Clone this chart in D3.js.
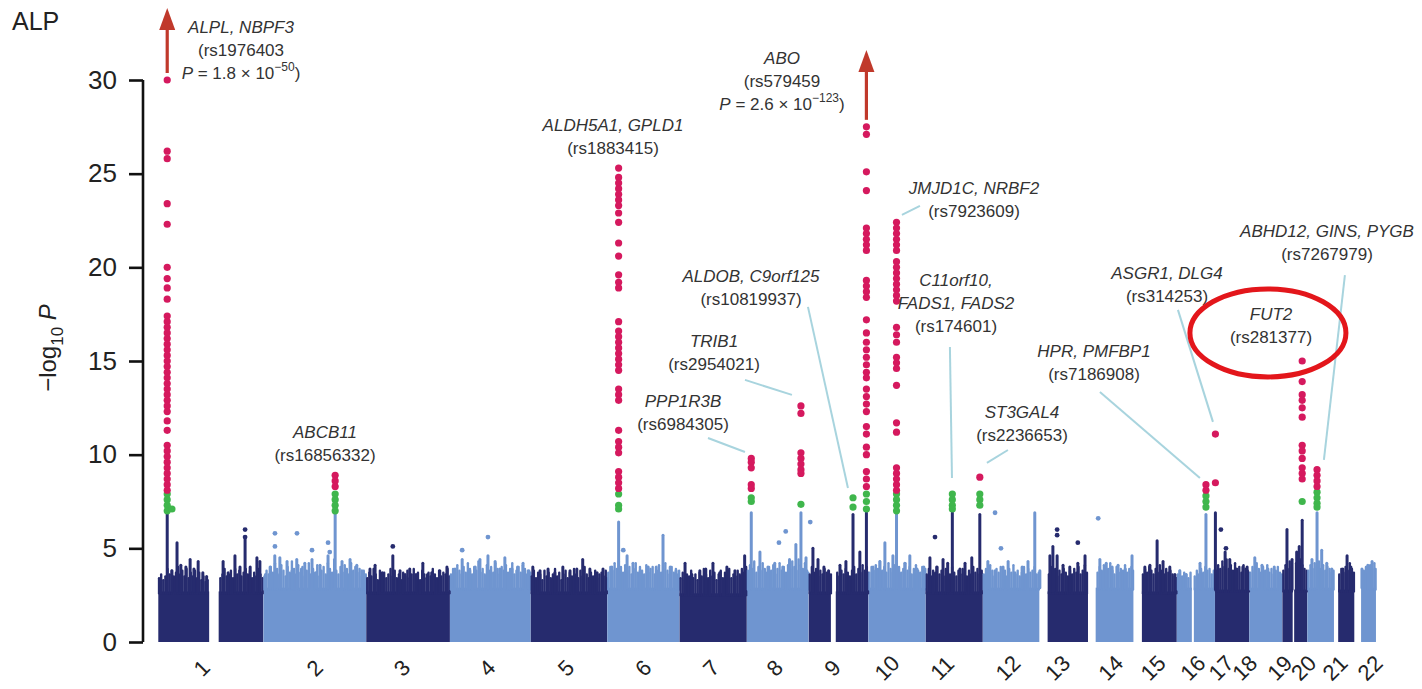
<!DOCTYPE html>
<html><head><meta charset="utf-8">
<script src="https://cdn.jsdelivr.net/npm/d3@7"></script>
<style>
body{margin:0;background:#fff;}
svg{display:block;font-family:"Liberation Sans",Arial,Helvetica,sans-serif;}
</style></head><body>
<svg id="chart" width="1422" height="689"></svg>
<script>
// ---- chromosomes (hg19 lengths, Mb) ----
const chromosomes = ["1","2","3","4","5","6","7","8","9","10","11","12","13","14","15","16","17","18","19","20","21","22"];
const chromLengthsMb = [249.25,243.20,198.02,191.15,180.92,171.12,159.14,146.36,141.21,135.53,135.01,133.85,115.17,107.35,102.53,90.35,81.20,78.08,59.13,63.03,48.13,51.30];
// stretches of each chromosome that carry tested SNPs (Mb)
const chromSpans = [
  [[0.7,121],[143.5,249]],[[0.1,243]],[[0.1,198]],[[0.1,191]],[[0.1,181]],[[0.2,171]],
  [[0.1,159]],[[0.2,146]],[[0.2,52.5],[64,141]],[[0.1,135.5]],[[0.2,135]],[[0.1,133.8]],
  [[19.5,115]],[[18,107.3]],[[20,102.5]],[[0.1,35.6],[40.4,90.3]],[[0.1,81.2]],[[0.1,78]],
  [[0.2,24.5],[28,59.1]],[[0.1,63]],[[10,48.1]],[[16,51.2]]
];
// height of the solid bulk of SNPs per chromosome (-log10 P)
const chromDenseLevel = [2.7,2.9,2.7,2.9,2.7,2.9,2.6,2.9,2.7,2.9,2.7,2.9,2.7,2.9,2.7,2.9,2.8,2.9,2.8,2.9,2.8,2.9];
// upper edge of the SNP cloud, one value every 5 Mb from the chromosome start
const cloudStepMb = 5;
const cloudTop = [
  "3.4 3.6 3.3 3.5 3.9 3.6 3.8 3.5 3.7 4.0 3.6 3.8 3.5 3.9 3.4 3.7 3.5 3.8 3.4 3.7 3.3 3.5 3.2 3.3 0 0 0 0 0 3.4 3.6 3.9 3.5 3.6 3.8 3.4 3.9 3.6 3.8 3.5 3.7 3.9 3.6 3.8 3.4 3.7 3.5 3.9 3.6 3.4",
  "3.5 3.8 3.6 4.0 3.7 4.2 3.9 3.6 4.1 3.8 3.5 4.0 3.7 4.3 3.9 3.6 4.1 3.7 4.0 3.5 3.8 4.2 3.6 3.9 3.7 4.1 3.5 3.8 4.0 3.6 4.2 3.9 3.7 4.4 3.8 3.6 4.0 3.7 4.1 3.9 3.6 4.2 3.8 4.0 3.7 3.9 3.5 3.8 3.6",
  "3.4 3.7 3.5 3.9 3.6 3.3 3.8 3.5 3.7 3.4 3.6 3.9 3.5 3.8 3.4 3.6 3.3 3.7 3.5 3.8 3.4 3.6 3.9 3.5 3.7 3.3 3.8 3.6 3.4 3.7 3.5 3.9 3.6 3.4 3.8 3.5 3.7 3.6 3.9 3.5",
  "3.6 3.9 3.7 4.1 3.8 3.6 4.0 3.7 4.2 3.9 3.6 4.0 3.8 4.3 3.7 3.9 3.6 4.1 3.8 4.0 3.7 4.2 3.9 3.6 4.0 3.8 4.1 3.7 3.9 4.2 3.6 3.8 4.0 3.7 4.1 3.9 3.6 3.8 3.7",
  "3.5 3.8 3.4 3.7 3.6 3.3 3.8 3.5 3.7 3.4 3.6 3.9 3.5 3.7 3.3 3.6 3.8 3.4 3.7 3.5 3.9 3.6 3.4 3.8 3.5 4.0 3.6 3.4 3.7 3.5 3.8 3.4 3.6 3.7 3.5 3.8 3.4",
  "3.7 4.0 3.8 4.2 3.9 4.3 4.0 3.7 4.1 3.8 4.0 3.6 3.9 4.2 3.7 4.0 3.8 3.6 4.1 3.7 3.9 4.0 3.6 3.8 4.1 3.7 3.9 4.2 3.8 3.6 4.0 3.7 3.9 3.6 3.8",
  "3.4 3.7 3.3 3.6 3.5 3.8 3.4 3.6 3.3 3.7 3.5 3.9 3.6 3.4 3.8 3.5 3.7 3.3 3.6 3.8 3.4 3.7 3.5 3.9 3.4 3.6 3.5 3.8 3.6 3.9 3.7 4.0",
  "3.8 4.1 3.9 4.3 3.7 4.0 3.8 4.2 3.9 3.7 4.0 3.8 4.1 3.6 3.9 4.2 3.8 4.0 3.7 4.1 3.9 4.3 4.0 3.8 4.4 4.1 3.9 4.2 3.8 3.7",
  "3.6 4.0 3.7 3.9 3.5 3.8 3.6 3.9 3.7 3.5 3.6 0 0 3.7 3.5 3.8 3.6 3.9 3.7 3.5 3.8 4.0 3.6 3.9 3.7 4.1 3.8 4.0 3.7",
  "3.7 4.0 3.8 4.1 3.9 4.3 3.8 4.0 3.7 4.2 3.9 3.7 4.1 3.8 4.0 3.7 3.9 4.2 3.8 4.0 3.6 3.9 4.1 3.8 3.7 4.0 3.8 3.9",
  "3.6 3.9 3.5 3.8 3.7 4.0 3.6 3.8 3.5 3.9 3.7 3.6 4.0 3.7 3.5 3.8 3.6 3.9 3.7 3.5 3.8 3.6 4.0 3.7 3.9 3.6 3.8",
  "3.6 3.9 3.7 4.1 3.8 3.5 3.9 3.7 4.0 3.6 3.8 3.5 3.9 3.7 4.1 3.6 3.8 3.5 3.7 4.0 3.6 3.9 3.7 3.8 4.0 3.6 3.7",
  "0 0 0 0 3.6 4.0 3.7 3.9 3.5 3.8 3.6 3.9 3.7 3.5 3.8 3.6 3.9 3.7 4.0 3.6 3.8 4.1 3.7",
  "0 0 0 0 3.7 4.0 3.8 4.1 3.7 3.9 4.2 3.8 3.6 4.0 3.7 3.9 3.8 4.1 3.7 3.9 4.0 3.8",
  "0 0 0 0 3.6 3.9 3.7 4.0 3.8 3.6 3.9 3.7 4.1 3.8 3.6 3.9 3.7 3.8 3.6 3.5 3.4",
  "3.6 3.8 3.5 3.7 3.6 3.4 3.7 0 3.5 3.8 3.6 3.9 3.7 4.0 3.8 3.9 3.6 3.8 3.7",
  "3.8 4.1 3.9 4.3 4.0 4.4 3.9 4.1 3.8 4.2 3.9 4.0 3.7 4.1 3.9 3.8 3.7",
  "3.7 4.0 3.8 4.2 3.9 3.7 4.0 3.8 4.1 3.7 3.9 3.6 3.8 4.0 3.7 3.6",
  "3.8 4.1 3.9 4.3 4.0 3.9 4.2 4.0 4.4 4.1 3.9 3.8",
  "3.8 4.1 3.9 4.2 4.0 4.3 3.9 4.1 3.8 4.0 3.9 3.7 3.8",
  "0 0 3.6 3.9 3.7 4.0 3.8 4.2 3.9 3.7",
  "0 0 0 0 3.8 4.0 3.7 4.1 3.9 4.2 3.9"
];
// local peaks of sub-threshold SNPs: [position Mb, -log10 P]
const backgroundPeaks = [
  [[21.8,6.9],[33,3.8],[45,5.3],[54,4.1],[66,4.0],[76,4.4],[85,3.9],[95,4.3],[106,3.7],[115,3.5],[154,4.3],[166,3.7],[182,4.6],[194,4.0],[206,5.5],[218,4.0],[234,4.5],[241,4.3]],
  [[5,3.6],[16,4.0],[27,4.6],[39,4.5],[56,4.3],[68,3.8],[79,4.4],[90,3.9],[98,4.2],[115,4.4],[125,3.7],[134,4.1],[153,4.6],[169.8,7.0],[186,4.3],[196,3.8],[205,4.4],[221,4.1],[233,3.8]],
  [[9,3.9],[21,4.1],[38,3.7],[63,4.6],[80,3.8],[92,3.6],[103,3.9],[118,3.6],[134,4.2],[145,3.6],[155,3.7],[174,3.8],[191,4.0]],
  [[12,3.9],[29,4.4],[47,3.8],[60,4.0],[71,4.4],[90,4.6],[107,4.3],[118,3.9],[130,4.5],[147,3.9],[160,4.0],[173,4.2],[185,3.8]],
  [[5,4.0],[22,3.8],[41,3.9],[57,3.7],[76,4.0],[93,3.8],[109,3.9],[123,4.4],[140,3.9],[157,3.7],[171,3.9]],
  [[11,4.0],[27,6.4],[47,4.6],[61,4.2],[78,3.8],[97,4.0],[116,4.0],[132,5.7],[149,4.0],[163,3.8]],
  [[13,4.2],[29,3.6],[48,3.8],[62,3.9],[79,4.2],[95,3.7],[112,4.0],[131,3.8],[154,4.6]],
  [[10.5,6.9],[31,4.8],[50,4.0],[66,4.2],[85,4.0],[101,4.4],[116,5.2],[128,6.9],[140,4.5]],
  [[10,5.0],[22,4.4],[36,4.0],[47,3.8],[74,4.1],[88,4.3],[104.8,6.8],[121,4.8],[136.5,6.9]],
  [[11,4.0],[27,4.3],[39,5.3],[58,4.6],[66.5,6.9],[86,4.2],[98,4.6],[115,3.9],[131,4.0]],
  [[10,4.5],[26,4.0],[41,4.4],[52,4.2],[63,6.9],[81,3.9],[93,4.2],[109,4.5],[128,6.8]],
  [[12,4.3],[29,3.8],[48,4.0],[60,4.3],[76,3.7],[93,4.0],[107,4.3],[123,6.9],[135,3.8]],
  [[25,4.6],[32,5.1],[42,4.6],[56,4.1],[72,4.0],[91,4.2],[108,4.6]],
  [[28,4.4],[43,4.2],[57,4.0],[71,4.1],[88,3.9],[104,4.6]],
  [[27,4.0],[39,4.1],[56,5.4],[70,4.3],[86,4.0],[98,3.6]],
  [[7,3.8],[22,3.6],[55,4.2],[69,6.8]],
  [[1,6.9],[24,4.8],[35,4.4],[50,3.9],[66,4.0],[76,4.0]],
  [[13,4.5],[30,4.1],[44,3.9],[59,4.0]],
  [[11,6.0],[23,4.4],[34,4.8],[40,5.1],[47,6.5]],
  [[11,4.4],[23,6.9],[34,4.9],[46,4.2],[58,3.9]],
  [[21,3.9],[31,4.6],[40,4.0]],
  [[18,3.9],[32,4.1],[42,4.3]]
];
// isolated sub-threshold SNPs: [chromosome index, position Mb, -log10 P]
const isolatedPoints = [
  [0,206,6.0],[0,206,5.6],[1,27.4,5.8],[1,27.4,5.1],[1,79.5,5.8],[1,115,4.9],[1,153,5.3],[1,157,4.8],
  [2,63,5.1],[3,90,5.6],[3,29,4.9],[5,38,4.9],[7,92,5.9],[7,76,5.3],[10,22,5.6],[11,29,6.9],[11,43,5.0],
  [12,42,6.0],[12,42,5.7],[12,91,5.3],[13,24,6.6],[16,14,6.0],[16,26,5.0],[7,150,6.4]
];

// ---- genome-wide significant loci ----
const hitGenes = ["ALPL","ABCB11","ALDH5A1","PPP1R3B","TRIB1","ALDOB","ABO","JMJD1C","FADS","ST3GAL4","HPR","ASGR1","FUT2","ABHD12"];
const hitChrom = [0,1,5,7,7,8,8,9,10,10,15,16,18,19];
const hitPosMb = [21.8,169.8,27,10.5,128,104.8,136.5,66.5,63,128,69,1,47,23];
const hitRed = [
  [30.0,26.2,25.8,23.4,22.3,20.0,19.4,18.9,18.3,17.4,17.1,16.8,16.5,16.2,15.9,15.6,15.3,15.0,14.7,14.4,14.1,13.8,13.5,13.2,12.9,12.6,12.3,11.8,11.3,10.5,10.2,9.9,9.6,9.3,9.0,8.7,8.4,8.1],
  [8.9,8.6,8.3],
  [25.3,24.8,24.5,24.2,23.9,23.6,23.3,22.9,22.4,21.3,20.6,19.6,19.2,18.9,17.1,16.6,16.3,16.0,15.7,15.4,15.1,14.8,14.5,13.5,13.2,12.9,11.3,10.7,10.4,10.1,9.1,8.8,8.5,8.2],
  [9.8,9.6,9.3,8.4,8.2],
  [12.6,12.2,10.1,9.8,9.5,9.2,9.0],
  [],
  [27.5,27.1,25.1,24.1,22.1,21.8,21.5,21.2,20.9,19.3,19.0,18.7,18.4,17.2,16.5,16.0,15.6,15.2,14.8,14.4,14.1,13.5,13.1,12.7,12.3,11.5,11.1,10.4,10.0,9.1,8.7,8.3],
  [22.4,22.1,21.8,21.5,21.2,20.9,20.3,20.0,19.7,19.4,19.1,18.8,18.5,18.2,16.8,16.4,16.0,15.2,14.9,14.6,13.7,11.7,11.2,9.3,9.0,8.7,8.4,8.1],
  [],
  [8.8],
  [8.4,8.1],
  [11.1,8.5],
  [15.0,13.9,13.2,12.9,12.5,12.0,10.5,10.2,9.8,9.3,9.0,8.7],
  [9.2,8.9,8.6,8.3]
];
const hitGreen = [
  [7.9,7.6,7.3,7.0],[7.9,7.6,7.3,7.0],[7.9,7.3,7.1],[7.7,7.5],[7.35],[7.7,7.2],[7.9,7.5,7.1],
  [7.9,7.6,7.3,7.0],[7.9,7.6,7.3,7.1],[7.9,7.6,7.3],[7.8,7.5,7.2],[],[7.5],[8.0,7.7,7.4,7.2]
];
const extraGreen = [[0,33,7.1]];

// loci whose P value runs off the top of the axis
const offScaleHits = [0,6];
const yTicks = [0,5,10,15,20,25,30];

// ---- drawing ----
const svg = d3.select("#chart");
const navy = "#262b6e", lightBlue = "#6f95d0", red = "#d5195e", green = "#3fb64c";
const arrowRed = "#c0392b", leaderColor = "#a8d4de", textColor = "#333";

const chromStart = [];
chromLengthsMb.reduce((acc, L, i) => { chromStart[i] = acc; return acc + L; }, 0);
const genomeLength = d3.sum(chromLengthsMb);

const x = d3.scaleLinear().domain([0, genomeLength]).range([158, 1376]);
const y = d3.scaleLinear().domain([0, 30]).range([642, 80]);
const gx = (c, mb) => x(chromStart[c] + mb);
const colorOf = c => (c % 2 === 0 ? navy : lightBlue);
const inSpan = (c, mb) => chromSpans[c].some(([a, b]) => mb >= a && mb <= b);

// bulk of SNPs
const bulk = svg.append("g");
chromSpans.forEach((spans, c) => {
  spans.forEach(([a, b]) => {
    bulk.append("rect")
      .attr("x", gx(c, a)).attr("width", gx(c, b) - gx(c, a))
      .attr("y", y(chromDenseLevel[c])).attr("height", y(0) - y(chromDenseLevel[c]))
      .attr("fill", colorOf(c));
  });
});
// ragged upper edge of the cloud
cloudTop.forEach((row, c) => {
  const vals = row.split(" ").map(Number);
  vals.forEach((v, k) => {
    const mb = Math.min(k * cloudStepMb + 2.5, chromLengthsMb[c] - 1);
    if (!v || !inSpan(c, mb)) return;
    bulk.append("line")
      .attr("x1", gx(c, mb)).attr("x2", gx(c, mb))
      .attr("y1", y(chromDenseLevel[c] - 0.1)).attr("y2", y(v))
      .attr("stroke", colorOf(c)).attr("stroke-width", 2.4).attr("stroke-linecap", "round");
  });
});
// sub-threshold peaks
backgroundPeaks.forEach((peaks, c) => {
  peaks.forEach(([mb, v]) => {
    bulk.append("line")
      .attr("x1", gx(c, mb)).attr("x2", gx(c, mb))
      .attr("y1", y(chromDenseLevel[c])).attr("y2", y(v))
      .attr("stroke", colorOf(c)).attr("stroke-width", 3).attr("stroke-linecap", "round");
  });
});
bulk.selectAll("circle.iso").data(isolatedPoints).join("circle")
  .attr("class", "iso")
  .attr("cx", d => gx(d[0], d[1])).attr("cy", d => y(d[2])).attr("r", 2.4)
  .attr("fill", d => colorOf(d[0]));

// leader lines from labels to loci: [cumulative Mb, -log10 P] end points
const leaders = [
  [1300.9,10.89,1388.4,10.14],[1388.4,13.99,1499.5,13.19],[1537.4,17.89,1632.0,8.22],
  [1802.3,23.28,1759.7,22.80],[1873.2,15.75,1878.0,8.76],[2010.4,10.25,1960.7,9.56],
  [2228.0,13.35,2464.5,8.76],[2412.5,17.73,2495.3,11.75],[2807.5,19.59,2757.8,9.72]
];
svg.append("g").selectAll("line").data(leaders).join("line")
  .attr("x1", d => x(d[0])).attr("y1", d => y(d[1]))
  .attr("x2", d => x(d[2])).attr("y2", d => y(d[3]))
  .attr("stroke", leaderColor).attr("stroke-width", 2);

// significant SNPs
const sig = svg.append("g");
hitGenes.forEach((g, i) => {
  const cx = gx(hitChrom[i], hitPosMb[i]);
  sig.selectAll(null).data(hitGreen[i]).join("circle")
    .attr("cx", cx).attr("cy", d => y(d)).attr("r", 3.6).attr("fill", green);
  sig.selectAll(null).data(hitRed[i]).join("circle")
    .attr("cx", cx).attr("cy", d => y(d)).attr("r", 3.6).attr("fill", red);
});
sig.selectAll(null).data(extraGreen).join("circle")
  .attr("cx", d => gx(d[0], d[1])).attr("cy", d => y(d[2])).attr("r", 3.6).attr("fill", green);

// arrows for loci beyond the axis
offScaleHits.forEach(i => {
  const cx = gx(hitChrom[i], hitPosMb[i]);
  const top = d3.max(hitRed[i]);
  const yBottom = y(top) - 7, yTip = i === 0 ? 8 : 50, headLen = 22;
  sig.append("line").attr("x1", cx).attr("x2", cx).attr("y1", yBottom).attr("y2", yTip + headLen - 2)
    .attr("stroke", arrowRed).attr("stroke-width", 3.2);
  sig.append("path")
    .attr("d", `M${cx},${yTip} L${cx - 8},${yTip + headLen} L${cx + 8},${yTip + headLen} Z`)
    .attr("fill", arrowRed);
});

// y axis
const yAxis = d3.axisLeft(y).tickValues(yTicks).tickSize(14).tickPadding(12);
const ya = svg.append("g").attr("transform", "translate(143,0)").call(yAxis);
ya.select(".domain").attr("stroke", "#111").attr("stroke-width", 2.6).attr("d", `M0,${y(30)}V${y(0)}`);
ya.selectAll(".tick line").attr("stroke", "#111").attr("stroke-width", 2.6);
ya.selectAll(".tick text").attr("font-size", 26).attr("fill", "#222")
  .attr("font-family", "'Liberation Sans',Arial,sans-serif");

// y axis title
const yt = svg.append("text").attr("transform", "translate(56,348) rotate(-90)")
  .attr("text-anchor", "middle").attr("fill", "#222").attr("font-size", 24);
yt.append("tspan").text("\u2212log");
yt.append("tspan").attr("font-size", 17).attr("dy", 7).text("10");
yt.append("tspan").attr("dy", -7).text(" ");
yt.append("tspan").attr("font-style", "italic").text("P");

svg.append("text").attr("x", 12).attr("y", 30).attr("font-size", 25).attr("fill", "#222").text("ALP");

// chromosome labels
const labelShift = [-9,0,-6,-3,-3,0,-2,-3,-6,-10,-12,-3,-6,0,-2,-3,-11,-21,-15,-17,-9,5];
svg.append("g").selectAll("text").data(chromosomes).join("text")
  .attr("transform", (d, i) => {
    const mid = x(chromStart[i] + chromLengthsMb[i] / 2) + labelShift[i];
    return `translate(${mid},668) rotate(-45)`;
  })
  .attr("text-anchor", "middle").attr("dominant-baseline", "central")
  .attr("font-size", 22).attr("fill", "#222").text(d => d);

// locus annotations
const ann = svg.append("g").attr("font-size", 17).attr("fill", textColor).attr("text-anchor", "middle");
function label(cx, y0, lines) {
  lines.forEach((ln, k) => {
    const t = ann.append("text").attr("x", cx).attr("y", y0 + k * 23);
    if (ln.type === "gene") t.attr("font-style", "italic").text(ln.text);
    else if (ln.type === "rs") t.text(ln.text);
    else {
      t.append("tspan").attr("font-style", "italic").text("P");
      t.append("tspan").text(" = " + ln.mant + " \u00d7 10");
      t.append("tspan").attr("font-size", 12).attr("dy", -8).text("\u2212" + ln.exp);
      t.append("tspan").attr("dy", 8).text(")");
    }
  });
}
label(241, 33, [{type:"gene",text:"ALPL, NBPF3"},{type:"rs",text:"(rs1976403"},{type:"p",mant:"1.8",exp:"50"}]);
label(325, 438, [{type:"gene",text:"ABCB11"},{type:"rs",text:"(rs16856332)"}]);
label(613, 131, [{type:"gene",text:"ALDH5A1, GPLD1"},{type:"rs",text:"(rs1883415)"}]);
label(782, 64, [{type:"gene",text:"ABO"},{type:"rs",text:"(rs579459"},{type:"p",mant:"2.6",exp:"123"}]);
label(974, 194, [{type:"gene",text:"JMJD1C, NRBF2"},{type:"rs",text:"(rs7923609)"}]);
label(751, 282, [{type:"gene",text:"ALDOB, C9orf125"},{type:"rs",text:"(rs10819937)"}]);
label(714, 347, [{type:"gene",text:"TRIB1"},{type:"rs",text:"(rs2954021)"}]);
label(683, 407, [{type:"gene",text:"PPP1R3B"},{type:"rs",text:"(rs6984305)"}]);
label(956, 286, [{type:"gene",text:"C11orf10,"},{type:"gene",text:"FADS1, FADS2"},{type:"rs",text:"(rs174601)"}]);
label(1022, 418, [{type:"gene",text:"ST3GAL4"},{type:"rs",text:"(rs2236653)"}]);
label(1094, 357, [{type:"gene",text:"HPR, PMFBP1"},{type:"rs",text:"(rs7186908)"}]);
label(1167, 279, [{type:"gene",text:"ASGR1, DLG4"},{type:"rs",text:"(rs314253)"}]);
label(1327, 237, [{type:"gene",text:"ABHD12, GINS, PYGB"},{type:"rs",text:"(rs7267979)"}]);
label(1271, 320, [{type:"gene",text:"FUT2"},{type:"rs",text:"(rs281377)"}]);

// highlight ring around FUT2
svg.append("ellipse").attr("cx", x(2625.4)).attr("cy", y(16.5)).attr("rx", 78).attr("ry", 44)
  .attr("fill", "none").attr("stroke", "#e3161b").attr("stroke-width", 5);
</script>
</body></html>
